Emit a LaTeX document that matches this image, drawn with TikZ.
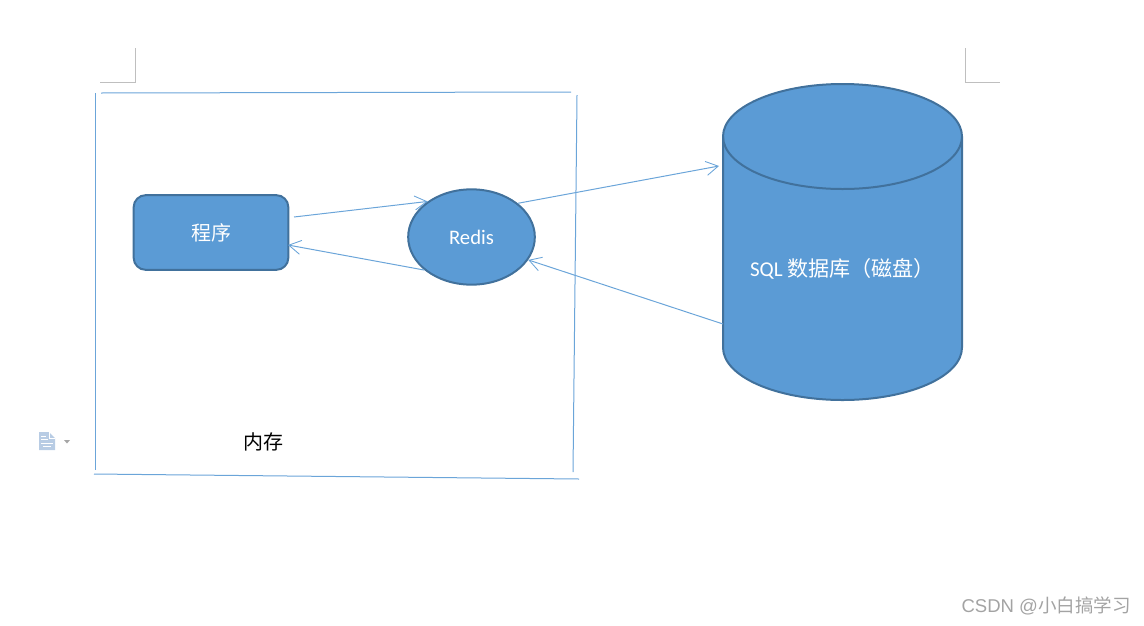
\documentclass[tikz,border=0pt]{standalone}
\usepackage{fontspec}
\usepackage{tikz}
\usetikzlibrary{arrows.meta,calc,shapes.geometric}
\setmainfont{Carlito}
\newfontfamily\cjk{Noto Sans CJK SC}
\newfontfamily\wm{Liberation Sans}
\definecolor{fillblue}{HTML}{5B9BD5}
\definecolor{edgeblue}{HTML}{41719C}
\definecolor{linkblue}{HTML}{5B9BD5}
\definecolor{markgray}{HTML}{BFBFBF}
\definecolor{iconblue}{HTML}{B8CCE4}
\tikzset{
  solid shape/.style={fill=fillblue,draw=edgeblue,line width=1.5pt},
  frameline/.style={draw=linkblue!90,line width=0.75pt},
  link/.style={draw=linkblue!90,line width=0.75pt,-{Straight Barb[length=9pt,width=10.5pt,line width=0.65pt]}},
  whitelabel/.style={text=white,inner sep=0pt},
  cropmark/.style={draw=markgray,line width=0.7pt},
}
\begin{document}
\begin{tikzpicture}[x=0.75pt,y=-0.75pt]
\useasboundingbox (0,0) rectangle (1144,625);
% page crop marks
\draw[cropmark] (100,82) -- (135,82) -- (135,48);
\draw[cropmark] (965,48) -- (965,82) -- (1000,82);
% memory frame
\draw[frameline] (95.5,93) -- (95.5,470);
\draw[frameline] (101,93) -- (571,92);
\draw[frameline] (577,95) -- (573,472);
\draw[frameline] (94,474) -- (579,479);
% database cylinder
\path[solid shape] (723,136.5) -- (723,347.5) arc[start angle=180,end angle=360,x radius=119.5,y radius=-52.5]
  -- (962,136.5) arc[start angle=0,end angle=180,x radius=119.5,y radius=-52.5] -- cycle;
\draw[edgeblue,line width=1.5pt] (723,136.5) arc[start angle=180,end angle=360,x radius=119.5,y radius=-52.5];
\node[whitelabel,font=\fontsize{15.8pt}{18pt}\selectfont] (db) at (842.5,269) {SQL {\cjk 数据库（磁盘）}};
% nodes
\node[solid shape,rounded corners=9pt,minimum width=116pt,minimum height=56pt,inner sep=0pt,text=white,font=\cjk\fontsize{15pt}{17pt}\selectfont] (prog) at (211,232.5) {程序};
\node[solid shape,ellipse,minimum width=95pt,minimum height=71.5pt,inner sep=0pt,text=white,font=\fontsize{15.5pt}{17pt}\selectfont] (redis) at (471.5,237) {Redis};
\node[inner sep=0pt,text=black,font=\cjk\fontsize{15pt}{17pt}\selectfont] (mem) at (263,442) {内存};
% connector ends
\coordinate (progout) at (294,217);
\coordinate (progin) at (288,245);
\coordinate (dbin) at (719,166);
\coordinate (dbout) at (723,324);
\draw[link] (progout) -- (redis.141);
\draw[link] (redis.215) -- (progin);
\draw[link] (redis.36) -- (dbin);
\draw[link] (dbout) -- (redis.-22);
% document icon
\fill[iconblue] (39,432) -- (49,432) -- (55,438) -- (55,450) -- (39,450) -- cycle;
\draw[white,line width=0.75pt] (41,436) -- (46,436) (41,439.5) -- (48,439.5) (41,443) -- (53,443) (43,446.5) -- (51,446.5);
\draw[white,line width=0.6pt] (49,432) -- (49,438) -- (55,438);
\fill[gray!70] (64,440) -- (70,440) -- (67,443.5) -- cycle;
% watermark
\node[inner sep=0pt,anchor=east,text=black!36,font=\wm\fontsize{13.9pt}{16pt}\selectfont] (mark) at (1131,606) {CSDN @{\cjk 小白搞学习}};
\end{tikzpicture}
\end{document}
